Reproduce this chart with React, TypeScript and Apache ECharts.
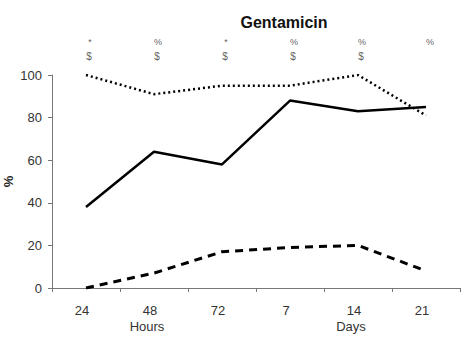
import React, { useEffect, useRef } from "react";
import * as echarts from "echarts";

const categories = ["24", "48", "72", "7", "14", "21"];
const unitLabels = ["", "Hours", "", "", "Days", ""];
const sigRow1 = ["*", "%", "*", "%", "%", "%"];
const sigRow2 = ["$", "$", "$", "$", "$", ""];
const solidValues = [38, 64, 58, 88, 83, 85];
const dottedValues = [100, 91, 95, 95, 100, 81];
const dashedValues = [0, 7, 17, 19, 20, 8];

const font = "Arial, 'Liberation Sans', sans-serif";

export default function App() {
  const ref = useRef<HTMLDivElement>(null);
  useEffect(() => {
    if (!ref.current) return;
    const chart = echarts.init(ref.current, null, { renderer: "svg" });
    const hiddenAxis = {
      axisLine: { show: false },
      axisTick: { show: false },
      splitLine: { show: false },
    };
    chart.setOption({
      animation: false,
      backgroundColor: "#fff",
      title: {
        text: "Gentamicin",
        left: 279,
        top: 9,
        textAlign: "center",
        textStyle: { fontFamily: font, fontSize: 16, fontWeight: "bold", color: "#111" },
      },
      grid: {
        left: 52,
        right: 1,
        top: 75,
        bottom: 49,
        containLabel: false,
        outerBoundsMode: "none",
      },
      xAxis: [
        {
          type: "category",
          data: categories,
          boundaryGap: true,
          axisLine: { lineStyle: { color: "#777", width: 1 } },
          axisTick: { show: true, length: 4, lineStyle: { color: "#777" } },
          axisLabel: {
            color: "#333",
            fontFamily: font,
            fontSize: 13,
            margin: 16,
            padding: [0, 8, 0, 0],
          },
          splitLine: { show: false },
        },
        {
          type: "category",
          data: unitLabels,
          position: "bottom",
          offset: 16,
          ...hiddenAxis,
          axisLabel: {
            color: "#333",
            fontFamily: font,
            fontSize: 13,
            margin: 16,
            interval: 0,
            padding: [0, 14, 0, 0],
          },
        },
        {
          type: "category",
          data: sigRow1,
          position: "top",
          ...hiddenAxis,
          axisLabel: {
            color: "#666",
            fontFamily: font,
            fontSize: 9,
            margin: 29,
            interval: 0,
            padding: [0, 0, 0, 8],
          },
        },
        {
          type: "category",
          data: sigRow2,
          position: "top",
          offset: 0,
          ...hiddenAxis,
          axisLabel: {
            color: "#666",
            fontFamily: font,
            fontSize: 10,
            margin: 14,
            interval: 0,
            padding: [0, 0, 0, 6],
          },
        },
      ],
      yAxis: {
        type: "value",
        min: 0,
        max: 100,
        interval: 20,
        name: "%",
        nameLocation: "middle",
        nameGap: 37,
        nameRotate: 90,
        nameMoveOverlap: false,
        nameTextStyle: { color: "#222", fontFamily: font, fontSize: 13, fontWeight: "bold" },
        axisLine: { show: true, lineStyle: { color: "#777", width: 1 } },
        axisTick: { show: true, length: 4, lineStyle: { color: "#777" } },
        axisLabel: { color: "#333", fontFamily: font, fontSize: 13, margin: 10 },
        splitLine: { show: false },
      },
      series: [
        {
          type: "line",
          data: solidValues,
          showSymbol: false,
          lineStyle: { color: "#000", width: 2.5, type: "solid" },
        },
        {
          type: "line",
          data: dottedValues,
          showSymbol: false,
          lineStyle: { color: "#000", width: 2.5, type: [2, 3] },
        },
        {
          type: "line",
          data: dashedValues,
          showSymbol: false,
          lineStyle: { color: "#000", width: 3, type: [8, 6] },
        },
      ],
    });
    return () => chart.dispose();
  }, []);
  return (
    <div
      ref={ref}
      style={{ position: "fixed", left: 0, top: 0, width: 461, height: 337, background: "#fff" }}
    />
  );
}
